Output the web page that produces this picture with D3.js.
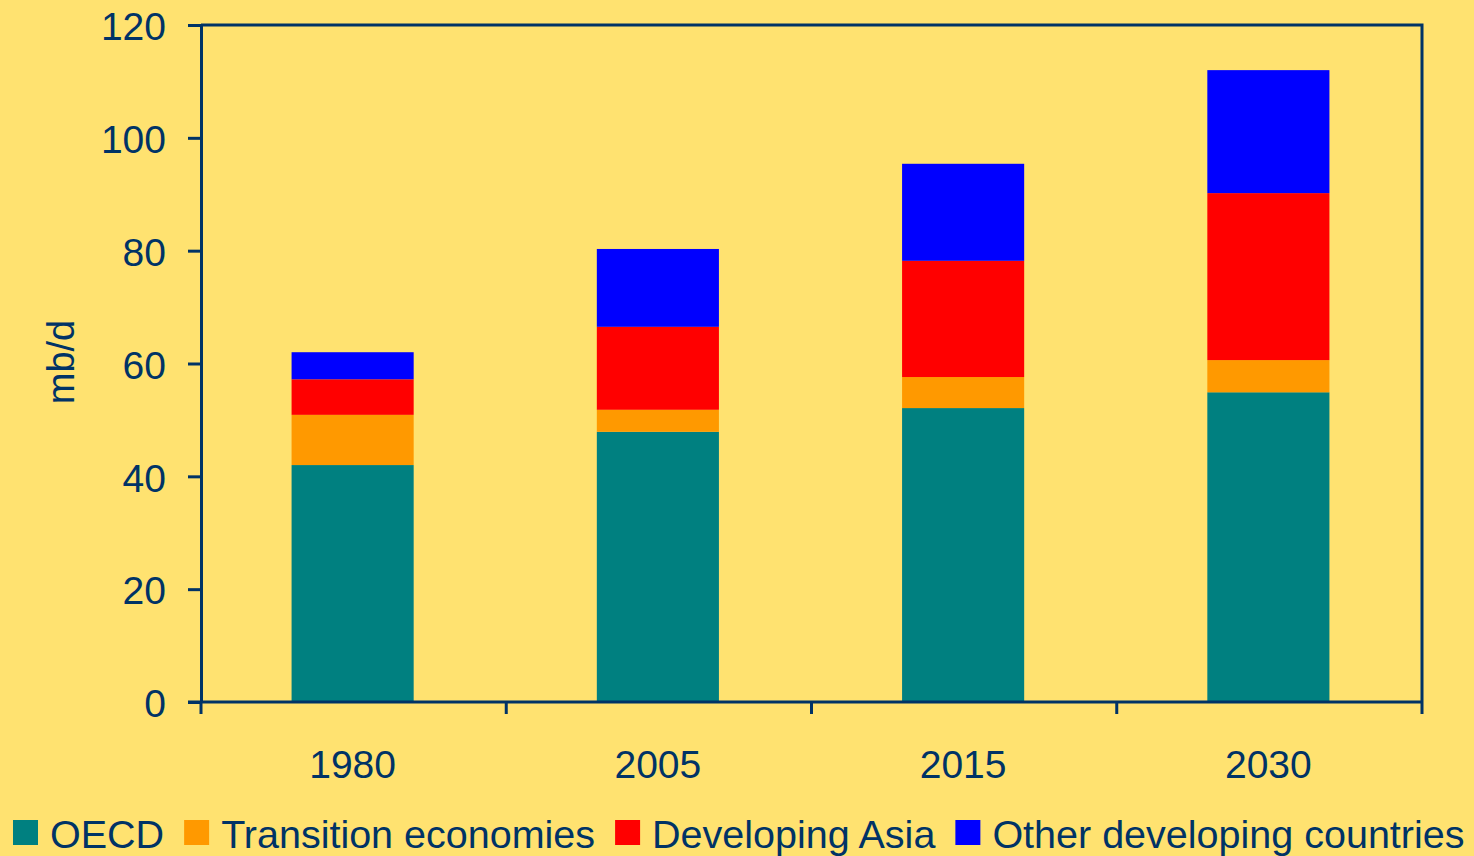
<!DOCTYPE html>
<html>
<head>
<meta charset="utf-8">
<script src="https://cdn.jsdelivr.net/npm/d3@7"></script>
<style>
  html, body { margin: 0; padding: 0; background: #FFE270; }
  svg { display: block; }
  text { font-family: "Liberation Sans", Arial, sans-serif; fill: #003366; }
</style>
</head>
<body>
<div id="chart"></div>
<script>
// values (mb/d)
var years = ["1980", "2005", "2015", "2030"];
var seriesNames = ["OECD", "Transition economies", "Developing Asia", "Other developing countries"];
var oecd = [42.0, 47.9, 52.1, 54.9];
var transition = [8.9, 3.9, 5.5, 5.7];
var devAsia = [6.3, 14.7, 20.6, 29.6];
var otherDev = [4.8, 13.8, 17.2, 21.8];
var yTicks = [0, 20, 40, 60, 80, 100, 120];
var colors = ["#008080", "#FF9900", "#FF0000", "#0000FF"];

var W = 1474, H = 856;
var m = {top: 25, left: 201, right: 52, bottom: 154};
var w = W - m.left - m.right, h = H - m.top - m.bottom;
var ink = "#003366";

var rows = years.map(function(y, i){
  return {year: y, OECD: oecd[i], "Transition economies": transition[i],
          "Developing Asia": devAsia[i], "Other developing countries": otherDev[i]};
});
var stacked = d3.stack().keys(seriesNames)(rows);

var svg = d3.select("#chart").append("svg")
    .attr("width", W)
    .attr("height", H);

var g = svg.append("g")
    .attr("transform", "translate(" + m.left + "," + m.top + ")");

var x = d3.scaleBand()
    .domain(years)
    .range([-1, w - 1])
    .paddingInner(0.6)
    .paddingOuter(0.3);

var y = d3.scaleLinear()
    .domain([0, 120])
    .range([h, 0]);

// bars
g.selectAll(".layer")
  .data(stacked)
  .enter().append("g")
    .attr("fill", function(d, i){ return colors[i]; })
  .selectAll("rect")
  .data(function(d){ return d; })
  .enter().append("rect")
    .attr("x", function(d){ return x(d.data.year); })
    .attr("y", function(d){ return y(d[1]); })
    .attr("height", function(d){ return y(d[0]) - y(d[1]); })
    .attr("width", x.bandwidth());

// frame top + right
g.append("path")
    .attr("d", "M0,0H" + w + "V" + h)
    .attr("fill", "none")
    .attr("stroke", ink)
    .attr("stroke-width", 3);

// y axis
var gy = g.append("g")
    .call(d3.axisLeft(y).tickValues(yTicks).tickSize(13).tickSizeOuter(0).tickPadding(22));
gy.select(".domain").attr("stroke", ink).attr("stroke-width", 3);
gy.selectAll(".tick line").attr("stroke", ink).attr("stroke-width", 3);
gy.selectAll(".tick text").style("font-size", "39px").attr("dy", "0.38em");

// x axis: ticks between categories
var step = w / years.length;
var gx = g.append("g")
    .attr("transform", "translate(0," + h + ")");
gx.append("line")
    .attr("x1", -13).attr("x2", w)
    .attr("stroke", ink).attr("stroke-width", 3);
gx.selectAll(".xt")
  .data(d3.range(years.length + 1))
  .enter().append("line")
    .attr("x1", function(i){ return step * i; })
    .attr("x2", function(i){ return step * i; })
    .attr("y1", 0).attr("y2", 12)
    .attr("stroke", ink).attr("stroke-width", 3);
gx.selectAll(".xl")
  .data(years)
  .enter().append("text")
    .attr("x", function(d){ return x(d) + x.bandwidth() / 2; })
    .attr("y", 76)
    .attr("text-anchor", "middle")
    .style("font-size", "39px")
    .text(function(d){ return d; });

// y label
svg.append("text")
    .attr("transform", "translate(74,362) rotate(-90)")
    .attr("text-anchor", "middle")
    .style("font-size", "38px")
    .text("mb/d");

// legend
var lx = 13;
seriesNames.forEach(function(name, i){
  svg.append("rect")
      .attr("x", lx).attr("y", 820)
      .attr("width", 25).attr("height", 25)
      .attr("fill", colors[i]);
  var t = svg.append("text")
      .attr("x", lx + 37).attr("y", 848)
      .style("font-size", "39.5px")
      .text(name);
  lx += 37 + t.node().getComputedTextLength() + 20;
});
</script>
</body>
</html>
